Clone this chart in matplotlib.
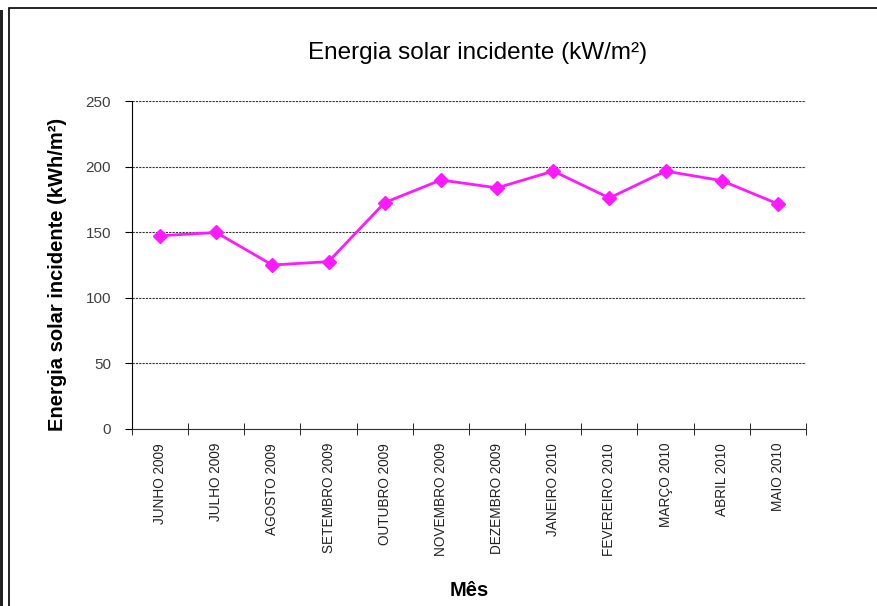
import matplotlib.pyplot as plt
from matplotlib.patches import Rectangle

plt.rcParams['font.family'] = ['Liberation Sans', 'DejaVu Sans']

# monthly incident solar energy
meses = ["JUNHO 2009", "JULHO 2009", "AGOSTO 2009", "SETEMBRO 2009",
         "OUTUBRO 2009", "NOVEMBRO 2009", "DEZEMBRO 2009", "JANEIRO 2010",
         "FEVEREIRO 2010", "MARÇO 2010", "ABRIL 2010", "MAIO 2010"]
energia = [147.3, 149.8, 125.0, 127.6, 172.6, 189.8, 183.8, 196.6,
           176.1, 196.6, 189.3, 171.6]

fig = plt.figure(figsize=(8.77, 6.06), dpi=100)
ax = fig.add_axes([0.1505, 0.2921, 0.7685, 0.5412])

x = list(range(len(meses)))
ax.plot(x, energia, color="#ff19ff", linewidth=2, marker="D",
        markersize=7, markeredgecolor="#ff19ff", zorder=3)

ax.set_xlim(-0.5, len(meses) - 0.5)
ax.set_ylim(0, 250)
ax.set_yticks([0, 50, 100, 150, 200, 250])
ax.set_xticks(x)
ax.set_xticklabels(meses, rotation=90, fontsize=9.8, color="#222222")
ax.tick_params(axis="y", direction="out", length=5, labelsize=11,
               labelcolor="#404040", pad=10)

# category separators on the x axis
ax.set_xticks([i - 0.5 for i in range(len(meses) + 1)], minor=True)
ax.tick_params(axis="x", which="minor", direction="inout", length=8)
ax.tick_params(axis="x", which="major", length=0, pad=10)

ax.grid(axis="y", linestyle=(0, (2, 1)), color="#333333", linewidth=0.8)
ax.set_axisbelow(True)
for side in ["top", "right"]:
    ax.spines[side].set_visible(False)
ax.spines["left"].set_color("black")
ax.spines["bottom"].set_color("#333333")

ax.set_title("Energia solar incidente (kW/m²)", fontsize=17.5, pad=30,
             x=0.513)
ax.set_ylabel("Energia solar incidente (kWh/m²)", fontsize=14.5,
              fontweight="bold")
ax.yaxis.set_label_coords(-0.096, 0.47)
ax.set_xlabel("Mês", fontsize=14.5, fontweight="bold", labelpad=18)

# chart frame
fig.patches.append(Rectangle((9 / 877, -0.1), 1.2, 1 - 8 / 606 + 0.1,
                             transform=fig.transFigure, fill=False,
                             edgecolor="black", linewidth=1.2))
fig.patches.append(Rectangle((0, 0), 3 / 877, 1 - 10 / 606,
                             transform=fig.transFigure, facecolor="#222222",
                             edgecolor="none"))

plt.savefig("out.png", dpi=100)
